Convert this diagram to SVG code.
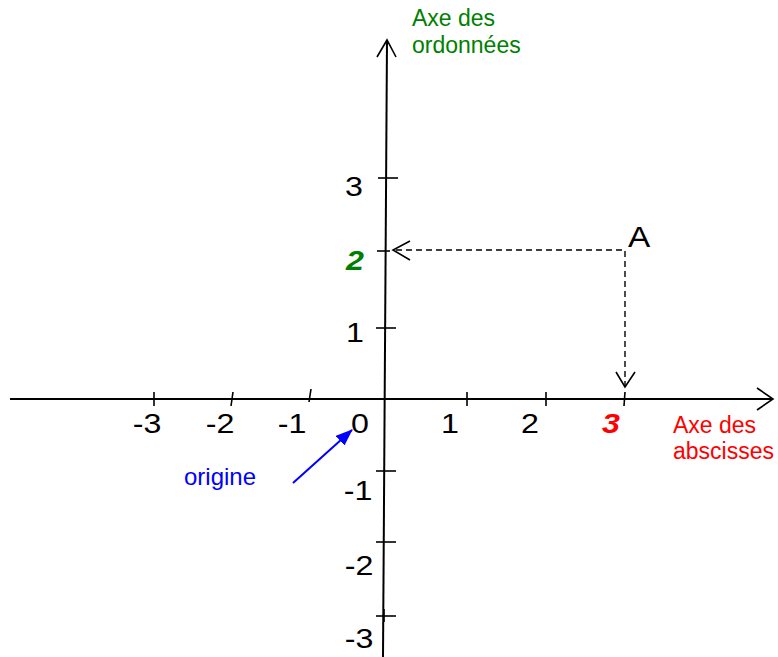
<svg xmlns="http://www.w3.org/2000/svg" width="778" height="657" viewBox="0 0 778 657">
<style>
.ax{stroke:#000;stroke-width:2;fill:none}
.tk{stroke:#000;stroke-width:1.6;fill:none}
.dash{stroke:#000;stroke-width:1.4;fill:none;stroke-dasharray:6 4}
.ah{stroke:#000;stroke-width:1.6;fill:none}
text{font-family:"Liberation Sans",Arial,sans-serif}
.num{font-size:28px;fill:#000;text-anchor:middle}
.lbl{font-size:23px}
</style>
<defs>
<marker id="blueHead" markerWidth="17" markerHeight="13" refX="16" refY="6.5" orient="auto" markerUnits="userSpaceOnUse" viewBox="0 0 17 13">
<path d="M0,0 L17,6.5 L0,13 z" fill="#0000ff"/>
</marker>
</defs>
<g id="x-axis">
<line class="ax" x1="10" y1="399" x2="773" y2="399"/>
<polyline class="ah" points="757,388 773,399 757,410"/>
</g>
<g id="y-axis">
<line class="ax" x1="387" y1="40" x2="383" y2="657"/>
<polyline class="ah" points="377,57 387,40 396,57"/>
</g>
<g id="x-ticks">
<line class="tk" x1="154" y1="392" x2="154" y2="406"/>
<line class="tk" x1="233" y1="392" x2="231" y2="406"/>
<line class="tk" x1="311" y1="389" x2="309" y2="402"/>
<line class="tk" x1="467" y1="392" x2="467" y2="406"/>
<line class="tk" x1="546" y1="392" x2="546" y2="406"/>
<line class="tk" x1="625" y1="392" x2="624" y2="406"/>
</g>
<g id="y-ticks">
<line class="tk" x1="378" y1="178" x2="398" y2="178"/>
<line class="tk" x1="377" y1="251" x2="390" y2="251"/>
<line class="tk" x1="376" y1="328" x2="396" y2="328"/>
<line class="tk" x1="376" y1="471" x2="396" y2="471"/>
<line class="tk" x1="376" y1="542" x2="396" y2="542"/>
<line class="tk" x1="376" y1="616" x2="396" y2="616"/>
<line class="tk" x1="384" y1="609" x2="384" y2="622"/>
</g>
<g id="x-labels">
<text class="num" transform="matrix(1.15 0 0 1 147 433)">-3</text>
<text class="num" transform="matrix(1.15 0 0 1 220 433)">-2</text>
<text class="num" transform="matrix(1.15 0 0 1 292 433)">-1</text>
<text class="num" transform="matrix(1.15 0 0 1 360 433)">0</text>
<text class="num" transform="matrix(1.15 0 0 1 450 433)">1</text>
<text class="num" transform="matrix(1.15 0 0 1 530 433)">2</text>
<text class="num" transform="matrix(1.15 0 0 1 611 433)" font-weight="bold" font-style="italic" style="fill:#ff0000">3</text>
</g>
<g id="y-labels">
<text class="num" transform="matrix(1.15 0 0 1 354 196)">3</text>
<text class="num" transform="matrix(1.15 0 0 1 355 270)" font-weight="bold" font-style="italic" style="fill:#008000">2</text>
<text class="num" transform="matrix(1.15 0 0 1 355 342)">1</text>
<text class="num" transform="matrix(1.15 0 0 1 358 500)">-1</text>
<text class="num" transform="matrix(1.15 0 0 1 359 575)">-2</text>
<text class="num" transform="matrix(1.15 0 0 1 359 648)">-3</text>
</g>
<g id="connectors">
<polyline class="dash" points="396,250 625,250 625,386"/>
<polyline class="ah" points="410,241 393,250 410,260"/>
<polyline class="ah" points="616,372 625,387 635,372"/>
<line x1="293" y1="483" x2="352" y2="430" stroke="#0000ff" stroke-width="2" marker-end="url(#blueHead)"/>
</g>
<g id="point-A">
<text style="font-size:29px" transform="matrix(1.15 0 0 1 628 247)">A</text>
</g>
<g id="origin-label">
<text x="184" y="485" fill="#0000ff" style="font-size:24px">origine</text>
</g>
<g id="ordinate-label">
<text class="lbl" x="412" y="26" fill="#008000">Axe des</text>
<text class="lbl" x="412" y="53" fill="#008000">ordonnées</text>
</g>
<g id="abscissa-label">
<text class="lbl" x="673" y="433" fill="#ff0000">Axe des</text>
<text class="lbl" x="673" y="459" fill="#ff0000">abscisses</text>
</g>
</svg>
